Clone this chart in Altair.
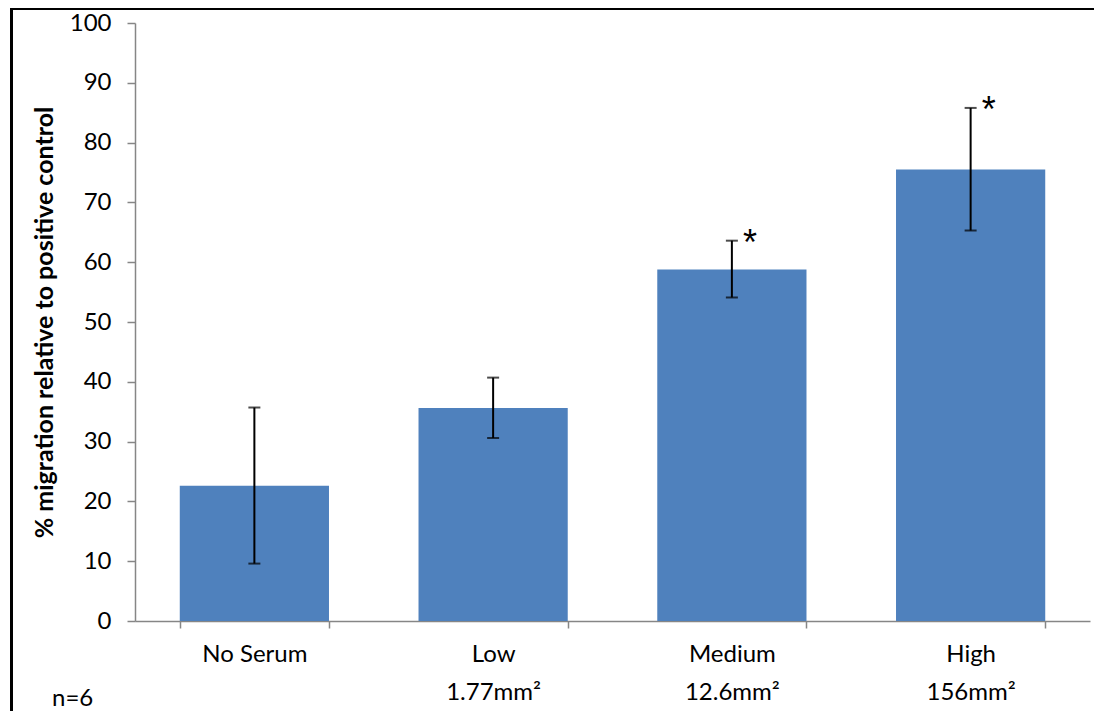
import altair as alt
import pandas as pd

categories = ["No Serum", "Low", "Medium", "High"]
sublabels = ["", "1.77mm²", "12.6mm²", "156mm²"]
means = [22.6, 35.6, 58.8, 75.5]
err_low = [9.6, 30.6, 54.1, 65.3]
err_high = [35.7, 40.7, 63.6, 85.8]
stars = ["", "", "*", "*"]
y_title = "% migration relative to positive control"
note = "n=6"

df = pd.DataFrame({
    "label": [c + "|" + s for c, s in zip(categories, sublabels)],
    "mean": means,
    "lo": err_low,
    "hi": err_high,
    "star": stars,
})
order = list(df["label"])

W, H = 955, 598
PL, PT, PR, PB = 127, 15, 4, 90

xscale = alt.Scale(domain=order, paddingInner=0.375, paddingOuter=0.1875)
x = alt.X("label:N", sort=order, scale=xscale, axis=alt.Axis(
    title=None, labelAngle=0,
    labelExpr="isValid(datum.value) ? split(datum.value, '|') : ''",
    labelFont="Lato", labelFontSize=24, labelColor="black",
    labelLineHeight=38, labelPadding=14,
    domainColor="#868686", domainWidth=1.5, tickColor="#868686", tickWidth=1.5,
    tickSize=7, tickBand="extent"))

base = alt.Chart(df)

bars = base.mark_bar(color="#4F81BD").encode(
    x=x,
    y=alt.Y("mean:Q", scale=alt.Scale(domain=[0, 100]), axis=alt.Axis(
        title=y_title, values=list(range(0, 101, 10)), grid=False,
        labelFont="Lato", labelFontSize=24, labelColor="black", labelPadding=16,
        tickSize=8, tickColor="#868686", tickWidth=1.5,
        domainColor="#868686", domainWidth=1.5,
        titleFont="Lato", titleFontSize=25, titleFontWeight="bold",
        titleColor="black", titlePadding=12)),
)

rules = base.mark_rule(color="black", strokeWidth=2).encode(
    x=alt.X("label:N", sort=order), y="lo:Q", y2="hi:Q")
cap_lo = base.mark_tick(color="black", thickness=2, size=12, orient="horizontal").encode(
    x=alt.X("label:N", sort=order), y="lo:Q")
cap_hi = base.mark_tick(color="black", thickness=2, size=12, orient="horizontal").encode(
    x=alt.X("label:N", sort=order), y="hi:Q")

star_text = base.transform_filter("datum.star != ''").mark_text(
    font="Liberation Sans", fontSize=36, color="black", dx=18, dy=14,
    baseline="alphabetic"
).encode(x=alt.X("label:N", sort=order), y="hi:Q", text="star:N")

one = alt.Chart(pd.DataFrame({"t": [note]}))
note_text = one.mark_text(font="Lato", fontSize=24, color="black", align="left",
                          baseline="alphabetic").encode(
    x=alt.value(52 - 135), y=alt.value(706 - 23), text="t:N")

border_left = one.mark_rule(color="black", strokeWidth=3).encode(
    x=alt.value(11.5 - 135), y=alt.value(8.5 - 23), y2=alt.value(H + PB))
border_top = one.mark_rule(color="black", strokeWidth=3).encode(
    y=alt.value(8.5 - 23), x=alt.value(11.5 - 135 - 1.5), x2=alt.value(W + PR))

chart = alt.layer(bars, rules, cap_lo, cap_hi, star_text, note_text,
                  border_left, border_top).properties(
    width=W, height=H,
    autosize=alt.AutoSizeParams(type="none"),
    padding={"left": PL, "top": PT, "right": PR, "bottom": PB},
).configure_view(stroke=None)

chart.save("out.html", embed_options={"renderer": "svg", "actions": False})
